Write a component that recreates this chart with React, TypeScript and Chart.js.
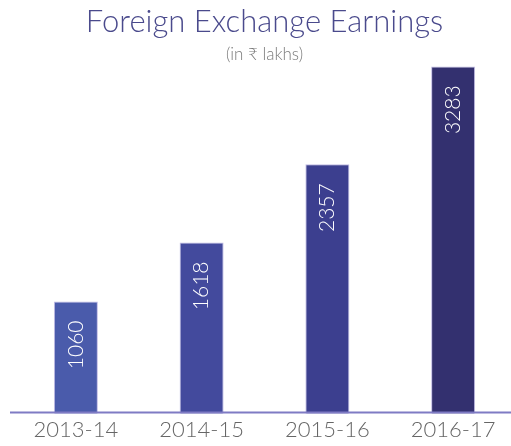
import React, { useEffect, useRef } from "react";
import { Chart, registerables } from "chart.js";

Chart.register(...registerables);

const categories = ["2013-14", "2014-15", "2015-16", "2016-17"];
const earnings = [1060, 1618, 2357, 3283];
const barColors = ["#4a5bab", "#434a9d", "#3c3f8f", "#33306f"];
const titleText = "Foreign Exchange Earnings";
const subtitleText = "(in ₹ lakhs)";

const FONT = "Lato, 'Noto Sans', 'DejaVu Sans', sans-serif";

const overlayPlugin = {
  id: "overlay",
  afterDatasetsDraw(chart: any) {
    const ctx = chart.ctx;
    const meta = chart.getDatasetMeta(0);
    const area = chart.chartArea;
    ctx.save();
    ctx.fillStyle = "#ffffff";
    ctx.font = `300 21px ${FONT}`;
    ctx.textAlign = "right";
    ctx.textBaseline = "middle";
    meta.data.forEach((bar: any, i: number) => {
      ctx.save();
      ctx.translate(bar.x, bar.y + 19);
      ctx.rotate(-Math.PI / 2);
      ctx.fillText(String(earnings[i]), 0, 0);
      ctx.restore();
    });
    ctx.strokeStyle = "#7f7bc4";
    ctx.lineWidth = 2;
    ctx.beginPath();
    ctx.moveTo(10, area.bottom - 1);
    ctx.lineTo(chart.width, area.bottom - 1);
    ctx.stroke();
    ctx.restore();
  },
};

export default function App() {
  const ref = useRef<HTMLCanvasElement | null>(null);
  useEffect(() => {
    document.body.style.margin = "0";
    if (!ref.current) return;
    const chart = new Chart(ref.current, {
      type: "bar",
      data: {
        labels: categories,
        datasets: [
          {
            data: earnings,
            backgroundColor: barColors,
            borderColor: "rgba(185,180,225,0.9)",
            borderWidth: 1,
            barPercentage: 0.35,
            categoryPercentage: 1,
            clip: false as any,
          },
        ],
      },
      options: {
        animation: false,
        responsive: false,
        maintainAspectRatio: false,
        layout: { padding: { left: 13, right: 5, top: 0, bottom: 0 } },
        plugins: {
          legend: { display: false },
          tooltip: { enabled: false },
          title: {
            display: true,
            text: titleText,
            color: "#4a4a8c",
            font: { family: FONT, size: 31, weight: "300" as any, lineHeight: 1.2 },
            padding: { top: 3, bottom: 0 },
          },
          subtitle: {
            display: true,
            text: subtitleText,
            color: "#7a7a7a",
            font: { family: FONT, size: 17, weight: "300" as any, lineHeight: 1.2 },
            padding: { top: 4, bottom: 0 },
          },
        },
        scales: {
          x: {
            grid: { display: false, drawTicks: false },
            border: { display: false },
            ticks: {
              color: "#666666",
              font: { family: FONT, size: 22, weight: "300" as any },
              padding: 3,
              maxRotation: 0,
            },
          },
          y: {
            display: false,
            min: 0,
            max: 3300,
          },
        },
      },
      plugins: [overlayPlugin],
    });
    return () => chart.destroy();
  }, []);
  return (
    <div style={{ position: "fixed", left: 0, top: 0, width: 511, height: 446, overflow: "hidden" }}>
      <canvas ref={ref} width={521} height={446} style={{ width: 521, height: 446, display: "block" }} />
    </div>
  );
}
